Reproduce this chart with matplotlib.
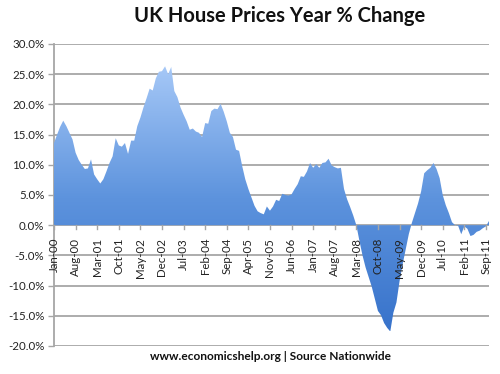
import numpy as np
import matplotlib
matplotlib.use("Agg")
import matplotlib.pyplot as plt
from matplotlib.colors import LinearSegmentedColormap

# Monthly year-on-year % change, Jan 2000 .. Oct 2011
values = [
    13.6, 15.0, 16.3, 17.3, 16.4, 15.3, 14.2, 12.0, 10.8, 10.0, 9.3, 9.4,   # 2000
    10.9, 8.4, 7.6, 6.9, 7.6, 8.9, 10.3, 11.4, 14.4, 13.2, 13.0, 13.6,      # 2001
    11.8, 14.0, 14.0, 16.4, 17.8, 19.5, 21.0, 22.6, 22.3, 24.3, 25.4, 25.5, # 2002
    26.3, 25.0, 26.2, 22.2, 21.2, 19.5, 18.3, 17.2, 15.8, 16.0, 15.5, 15.3, # 2003
    14.6, 16.9, 16.8, 18.9, 19.3, 19.2, 20.1, 18.8, 17.2, 15.3, 14.6, 12.5, # 2004
    12.3, 9.8, 7.6, 6.0, 4.6, 3.2, 2.3, 2.0, 1.8, 3.1, 2.4, 3.1,            # 2005
    4.2, 4.0, 5.2, 5.0, 4.9, 5.1, 6.0, 6.8, 8.1, 8.0, 8.9, 10.3,            # 2006
    9.5, 10.1, 9.5, 10.3, 10.4, 11.0, 9.9, 9.6, 9.4, 9.5, 6.0, 4.3,         # 2007
    3.0, 1.6, 0.0, -2.6, -5.0, -7.0, -8.6, -10.2, -12.2, -14.2, -14.9, -16.2, # 2008
    -17.0, -17.6, -14.5, -12.8, -9.3, -6.5, -4.0, -1.5, 0.4, 2.0, 3.6, 5.6,  # 2009
    8.6, 9.1, 9.5, 10.3, 9.3, 7.8, 5.0, 3.3, 2.0, 0.5, 0.0, -0.1,           # 2010
    -1.5, -0.2, -0.6, -1.8, -1.6, -1.1, -0.9, -0.5, -0.2, 0.7,              # 2011
]
tick_labels = ["Jan-00", "Aug-00", "Mar-01", "Oct-01", "May-02", "Dec-02", "Jul-03",
               "Feb-04", "Sep-04", "Apr-05", "Nov-05", "Jun-06", "Jan-07", "Aug-07",
               "Mar-08", "Oct-08", "May-09", "Dec-09", "Jul-10", "Feb-11", "Sep-11"]
y_ticks = [30, 25, 20, 15, 10, 5, 0, -5, -10, -15, -20]
title = "UK House Prices Year % Change"
footer = "www.economicshelp.org | Source Nationwide"

plt.rcParams['font.family'] = ['Lato', 'DejaVu Sans']

fig = plt.figure(figsize=(5.0, 3.74), dpi=100)
ax = fig.add_axes([0.108, 0.0749, 0.870, 0.8075])

x = np.arange(len(values))
v = np.array(values)

grid_c = "#a6a6a6"
for yt in y_ticks:
    ax.axhline(yt, color=grid_c, lw=1.3, zorder=1)

poly = ax.fill_between(x, v, 0, color="none", lw=0, zorder=2)
cmap = LinearSegmentedColormap.from_list("g", ["#3873cb", "#5d93dd", "#a6c8f7"])
grad = np.linspace(0, 1, 256).reshape(-1, 1)
im = ax.imshow(grad, cmap=cmap, origin="lower", aspect="auto",
               extent=[0, len(values) - 1, v.min(), v.max()], zorder=3,
               interpolation="bilinear")
path = poly.get_paths()[0]
im.set_clip_path(path, transform=ax.transData)

ax.set_xlim(0, len(values) - 1)
ax.set_ylim(-20, 30)

for s in ["top", "right", "bottom"]:
    ax.spines[s].set_visible(False)
ax.spines["left"].set_color(grid_c)
ax.spines["left"].set_linewidth(1.3)

ax.set_yticks(y_ticks)
ax.set_yticklabels([f"{t:.1f}%" for t in y_ticks], fontsize=8.3, color="#222222")
ax.tick_params(axis="y", length=4, width=1, color=grid_c, pad=3)

ax.set_xticks([])
tick_pos = x[::7]
for p, lab in zip(tick_pos, tick_labels):
    ax.plot([p, p], [0, -0.7], color=grid_c, lw=1, zorder=4, clip_on=False)
    ax.text(p, -2.1, lab, rotation=90, ha="center", va="top", fontsize=8.3,
            color="#222222", zorder=5)

fig.text(0.56, 0.958, title, ha="center", va="center", fontsize=14.5,
         fontweight="bold", color="#111111")
fig.text(0.542, 0.0455, footer, ha="center", va="center", fontsize=8.6,
         fontweight="bold", color="#111111")

fig.savefig("out.png", dpi=100)
